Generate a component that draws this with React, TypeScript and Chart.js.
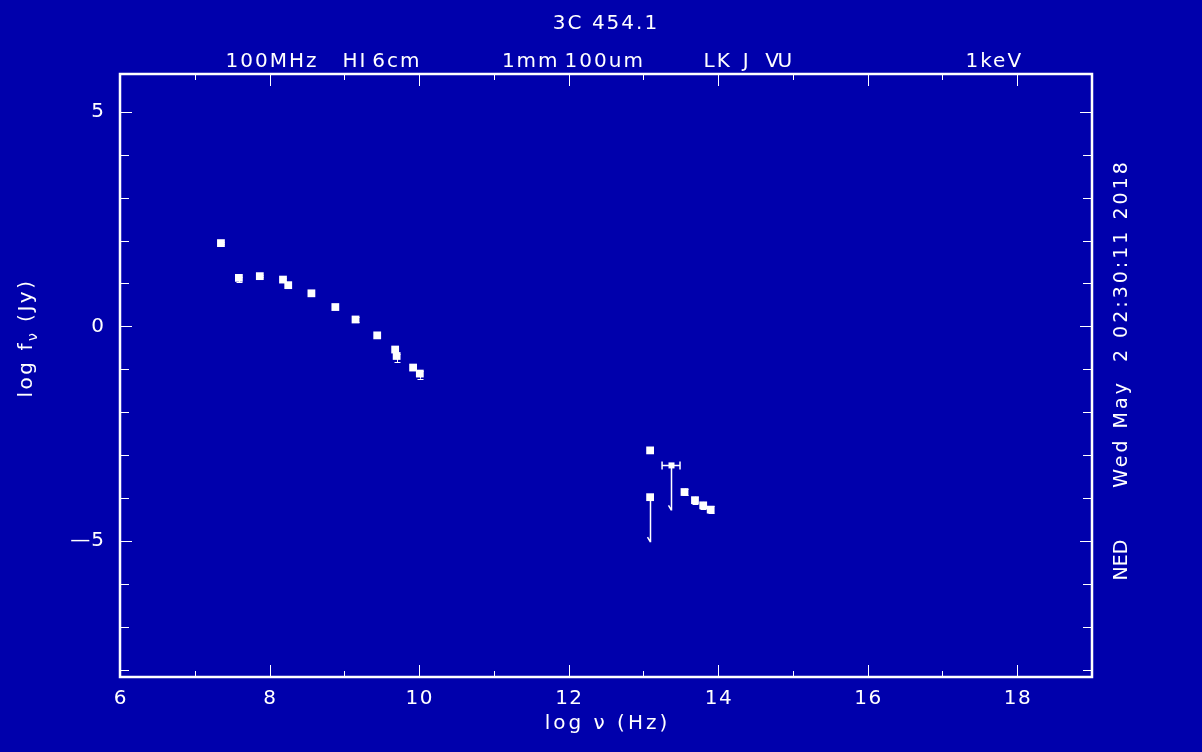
import React, { useEffect, useRef } from "react";
import { Chart, registerables } from "chart.js";

Chart.register(...registerables);

const BG = "#0000AC";
const FG = "#FFFFFF";
const FONT = '"DejaVu Sans", sans-serif';

const title = "3C 454.1";
const xAxisLabel = "log \u03BD (Hz)";
const sideText = "Wed May  2 02:30:11 2018";
const sideTag = "NED";

// detections: log nu (Hz), log f_nu (Jy), error bars (dex)
const xValues = [7.35, 7.59, 7.87, 8.18, 8.25, 8.56, 8.88, 9.15, 9.44, 9.68, 9.7, 9.92, 10.01, 13.09, 13.55, 13.69, 13.8, 13.9];
const yValues = [1.94, 1.13, 1.17, 1.09, 0.96, 0.77, 0.45, 0.16, -0.21, -0.54, -0.69, -0.96, -1.1, -2.89, -3.86, -4.05, -4.17, -4.27];
const yErrLow = [0.02, 0.1, 0.03, 0.03, 0.03, 0.03, 0.02, 0.05, 0.04, 0.06, 0.15, 0.03, 0.12, 0.03, 0.08, 0.08, 0.08, 0.08];
const yErrHigh = [0.02, 0.03, 0.03, 0.03, 0.03, 0.03, 0.02, 0.05, 0.04, 0.06, 0.05, 0.03, 0.06, 0.03, 0.08, 0.08, 0.08, 0.08];

// upper limits
const ulX = [13.09, 13.37];
const ulY = [-3.98, -3.24];
const ulXErr = [0.0, 0.12];
const ulDrop = [1.05, 1.05];

// axis ticks
const xMin = 6;
const xMax = 19;
const yMin = -8.17;
const yMax = 5.88;
const xTickLabels = [6, 8, 10, 12, 14, 16, 18];
const yTickLabels = [5, 0, -5];

// band labels on top axis: [label, log nu]
const bandNames = ["100MHz", "HI", "6cm", "1mm", "100um", "L", "K", "J", "V", "U", "1keV"];
const bandLogNu = [8.02, 9.13, 9.69, 11.48, 12.47, 13.88, 14.07, 14.37, 14.72, 14.89, 17.68];

function text(ctx: any, s: string, x: number, y: number, size: number, spacing: number, align: string) {
  ctx.font = `${size}px ${FONT}`;
  ctx.letterSpacing = `${spacing}px`;
  ctx.textAlign = "left";
  const w = ctx.measureText(s).width - spacing;
  let x0 = x;
  if (align === "center") x0 = x - w / 2;
  else if (align === "right") x0 = x - w;
  ctx.fillText(s, x0, y);
  ctx.letterSpacing = "0px";
  return w;
}

const framePlugin = {
  id: "nedFrame",
  beforeDraw(chart: any) {
    const ctx = chart.ctx;
    ctx.save();
    ctx.fillStyle = BG;
    ctx.fillRect(0, 0, chart.width, chart.height);
    ctx.restore();
  },
  afterDatasetsDraw(chart: any) {
    const ctx = chart.ctx;
    const xs = chart.scales.x;
    const ys = chart.scales.y;
    const a = chart.chartArea;
    ctx.save();
    ctx.strokeStyle = FG;
    ctx.fillStyle = FG;

    // frame
    ctx.lineWidth = 2.5;
    ctx.strokeRect(a.left, a.top, a.right - a.left, a.bottom - a.top);

    // ticks
    ctx.lineWidth = 1;
    ctx.beginPath();
    for (let v = Math.ceil(xMin); v <= xMax; v++) {
      const px = Math.round(xs.getPixelForValue(v)) + 0.5;
      const len = v % 2 === 0 ? 12 : 6;
      ctx.moveTo(px, a.bottom);
      ctx.lineTo(px, a.bottom - len);
      ctx.moveTo(px, a.top);
      ctx.lineTo(px, a.top + len);
    }
    for (let v = Math.ceil(yMin); v <= Math.floor(yMax); v++) {
      const py = Math.round(ys.getPixelForValue(v)) + 0.5;
      const len = v % 5 === 0 ? 12 : 9;
      ctx.moveTo(a.left, py);
      ctx.lineTo(a.left + len, py);
      ctx.moveTo(a.right, py);
      ctx.lineTo(a.right - len, py);
    }
    ctx.stroke();

    // error bars
    ctx.beginPath();
    for (let i = 0; i < xValues.length; i++) {
      const px = Math.round(xs.getPixelForValue(xValues[i])) + 0.5;
      const y1 = ys.getPixelForValue(yValues[i] - yErrLow[i]);
      const y2 = ys.getPixelForValue(yValues[i] + yErrHigh[i]);
      ctx.moveTo(px, y1);
      ctx.lineTo(px, y2);
      ctx.moveTo(px - 3, Math.round(y1) + 0.5);
      ctx.lineTo(px + 3, Math.round(y1) + 0.5);
      ctx.moveTo(px - 3, Math.round(y2) + 0.5);
      ctx.lineTo(px + 3, Math.round(y2) + 0.5);
    }
    ctx.stroke();

    // upper limits
    ctx.lineWidth = 1.5;
    for (let i = 0; i < ulX.length; i++) {
      const px = Math.round(xs.getPixelForValue(ulX[i])) + 0.5;
      const py = ys.getPixelForValue(ulY[i]);
      const pyEnd = ys.getPixelForValue(ulY[i] - ulDrop[i]);
      ctx.beginPath();
      ctx.moveTo(px, py);
      ctx.lineTo(px, pyEnd);
      ctx.moveTo(px - 3, pyEnd - 5);
      ctx.lineTo(px, pyEnd);
      ctx.stroke();
      if (ulXErr[i] > 0) {
        const xl = xs.getPixelForValue(ulX[i] - ulXErr[i]);
        const xr = xs.getPixelForValue(ulX[i] + ulXErr[i]);
        const pyr = Math.round(py) + 0.5;
        ctx.beginPath();
        ctx.moveTo(xl, pyr);
        ctx.lineTo(xr, pyr);
        ctx.moveTo(xl, pyr - 4);
        ctx.lineTo(xl, pyr + 4);
        ctx.moveTo(xr, pyr - 4);
        ctx.lineTo(xr, pyr + 4);
        ctx.stroke();
        ctx.fillRect(px - 3, py - 3, 6, 6);
      }
    }

    // texts
    ctx.textBaseline = "middle";
    xTickLabels.forEach((v) => {
      text(ctx, String(v), xs.getPixelForValue(v), 699, 20, 1.5, "center");
    });
    yTickLabels.forEach((v) => {
      text(ctx, v < 0 ? "\u2014" + Math.abs(v) : String(v), 104, ys.getPixelForValue(v), 20, 1, "right");
    });

    text(ctx, xAxisLabel, 606, 724, 20, 3, "center");
    text(ctx, title, 605, 24, 20, 2, "center");

    bandNames.forEach((n, i) => {
      text(ctx, n, xs.getPixelForValue(bandLogNu[i]), 62, 20, 2, "center");
    });

    // y axis label (rotated)
    ctx.save();
    ctx.translate(27, 338);
    ctx.rotate(-Math.PI / 2);
    const sp = 2.5;
    ctx.font = `20px ${FONT}`;
    ctx.letterSpacing = `${sp}px`;
    const p1 = "log f";
    const p3 = " (Jy)";
    const w1 = ctx.measureText(p1).width;
    const w3 = ctx.measureText(p3).width;
    ctx.font = `14px ${FONT}`;
    const w2 = ctx.measureText("\u03BD").width;
    const total = w1 + w2 + w3;
    let cx = -total / 2;
    text(ctx, p1, cx, 0, 20, sp, "left");
    cx += w1;
    text(ctx, "\u03BD", cx, 6, 14, sp, "left");
    cx += w2;
    text(ctx, p3, cx, 0, 20, sp, "left");
    ctx.restore();

    // right side text
    ctx.save();
    ctx.translate(1122, 0);
    ctx.rotate(-Math.PI / 2);
    text(ctx, sideText, -325, 0, 19, 3, "center");
    text(ctx, sideTag, -560, 0, 19, 0, "center");
    ctx.restore();

    ctx.restore();
  },
};

export default function App() {
  const ref = useRef<HTMLCanvasElement | null>(null);

  useEffect(() => {
    document.body.style.margin = "0";
    document.body.style.background = BG;
    const canvas = ref.current;
    if (!canvas) return;
    const chart = new Chart(canvas, {
      type: "scatter",
      data: {
        datasets: [
          {
            label: "detections",
            data: xValues.map((x, i) => ({ x, y: yValues[i] })),
            pointStyle: "rect",
            pointRadius: 5.5,
            backgroundColor: FG,
            borderColor: FG,
            borderWidth: 0,
          },
          {
            label: "upper limits",
            data: ulX.map((x, i) => ({ x, y: ulY[i] })),
            pointStyle: "rect",
            pointRadius: 5.5,
            backgroundColor: ulXErr.map((e) => (e > 0 ? "rgba(0,0,0,0)" : FG)),
            borderColor: ulXErr.map((e) => (e > 0 ? "rgba(0,0,0,0)" : FG)),
            borderWidth: 0,
          },
        ],
      },
      options: {
        responsive: false,
        animation: false,
        devicePixelRatio: 1,
        layout: { padding: { left: 120, right: 110, top: 74, bottom: 75 } },
        plugins: { legend: { display: false }, tooltip: { enabled: false }, title: { display: false } },
        scales: {
          x: { type: "linear", min: xMin, max: xMax, display: false },
          y: { type: "linear", min: yMin, max: yMax, display: false },
        },
      },
      plugins: [framePlugin],
    });
    return () => chart.destroy();
  }, []);

  return (
    <div style={{ position: "absolute", left: 0, top: 0, width: 1202, height: 752, background: BG }}>
      <canvas ref={ref} width={1202} height={752} style={{ display: "block" }} />
    </div>
  );
}
